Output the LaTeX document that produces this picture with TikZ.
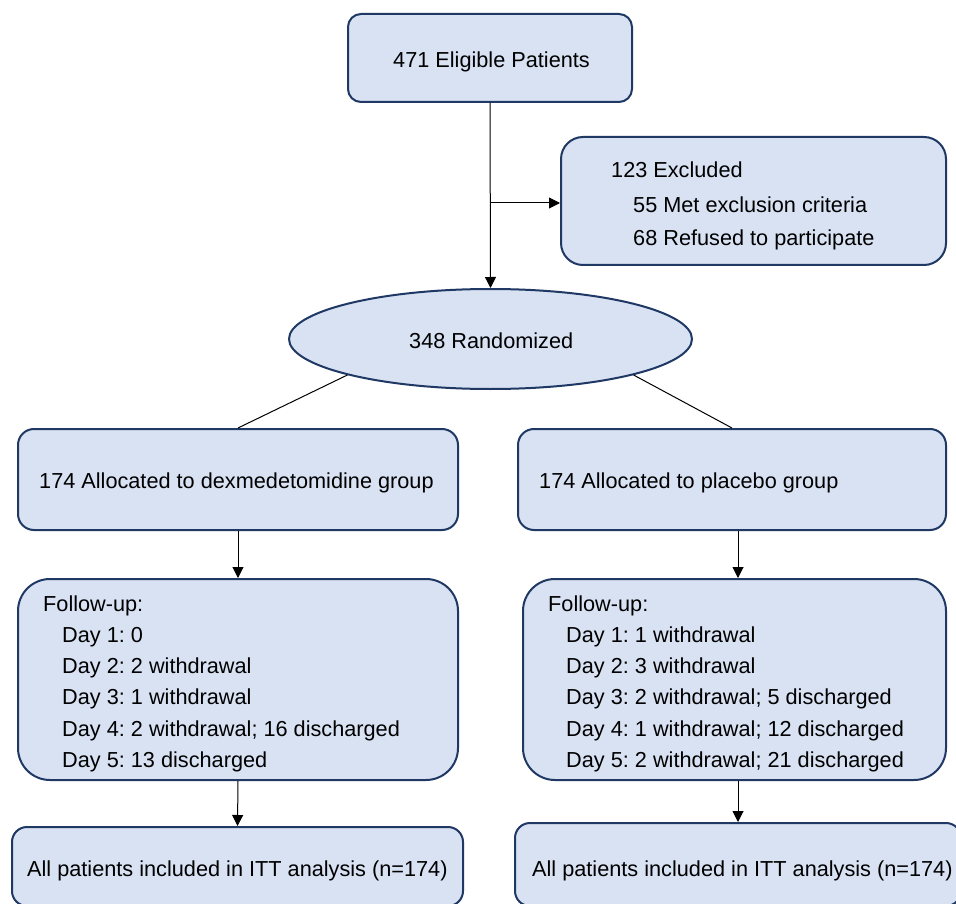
\documentclass[tikz,border=0pt]{standalone}
\usepackage{fontspec}
\setmainfont{Liberation Sans}
\usetikzlibrary{arrows.meta,shapes.geometric}
\definecolor{boxfill}{HTML}{D9E2F3}
\definecolor{boxline}{HTML}{1F3864}
\frenchspacing
\begin{document}
\begin{tikzpicture}[x=1pt,y=-1pt,
  font=\fontsize{21.7}{26}\selectfont,
  box/.style={draw=boxline,fill=boxfill,line width=2pt,rectangle,inner sep=0pt},
  ell/.style={draw=boxline,fill=boxfill,line width=2pt,ellipse,inner sep=0pt},
  txt/.style={anchor=base west,inner sep=0pt,text=black},
  conn/.style={draw=black,line width=1pt},
  arr/.style={conn,-{Triangle[length=11pt,width=11pt]}}]
\useasboundingbox (0,0) rectangle (956,904);
\clip (0,0) rectangle (956,904);
\fill[white] (0,0) rectangle (956,904);

% boxes
\node[box,rounded corners=13pt,minimum width=284pt,minimum height=88pt] (top) at (490,58) {};
\node[box,rounded corners=22pt,minimum width=385pt,minimum height=128pt] (excl) at (753.5,201) {};
\node[ell,minimum width=403pt,minimum height=100pt] (rand) at (490.5,339) {};
\node[box,rounded corners=16pt,minimum width=440pt,minimum height=101pt] (la) at (238,479.5) {};
\node[box,rounded corners=16pt,minimum width=428pt,minimum height=101pt] (ra) at (732,479.5) {};
\node[box,rounded corners=32pt,minimum width=440pt,minimum height=201pt] (lf) at (238,679.5) {};
\node[box,rounded corners=32pt,minimum width=423pt,minimum height=201pt] (rf) at (734.5,679.5) {};
\node[box,rounded corners=15pt,minimum width=451pt,minimum height=79pt] (lb) at (237.5,866.5) {};
\node[box,rounded corners=15pt,minimum width=446pt,minimum height=83pt] (rb) at (738,864.5) {};

% texts
\node[txt] (ttop) at (393,68) {471 Eligible Patients};
\node[txt] (te1) at (611,178) {123 Excluded};
\node[txt] (te2) at (633,213) {55 Met exclusion criteria};
\node[txt] (te3) at (633,246) {68 Refused to participate};
\node[txt] (trand) at (409,348) {348 Randomized};
\node[txt] (tla) at (39,488) {174 Allocated to dexmedetomidine group};
\node[txt] (tra) at (539,488) {174 Allocated to placebo group};

\node[txt] (lf0) at (43,611) {Follow-up:};
\node[txt] (lf1) at (62,642) {Day 1: 0};
\node[txt] (lf2) at (62,673) {Day 2: 2 withdrawal};
\node[txt] (lf3) at (62,704) {Day 3: 1 withdrawal};
\node[txt] (lf4) at (62,736) {Day 4: 2 withdrawal; 16 discharged};
\node[txt] (lf5) at (62,767) {Day 5: 13 discharged};

\node[txt] (rf0) at (548,611) {Follow-up:};
\node[txt] (rf1) at (566,642) {Day 1: 1 withdrawal};
\node[txt] (rf2) at (566,673) {Day 2: 3 withdrawal};
\node[txt] (rf3) at (566,704) {Day 3: 2 withdrawal; 5 discharged};
\node[txt] (rf4) at (566,736) {Day 4: 1 withdrawal; 12 discharged};
\node[txt] (rf5) at (566,767) {Day 5: 2 withdrawal; 21 discharged};

\node[txt] (tlb) at (27,876.5) {All patients included in ITT analysis (n=174)};
\node[txt] (trb) at (532,876) {All patients included in ITT analysis (n=174)};

% connectors
\coordinate (branch) at (491,203);
\draw[arr] (top.south) -- (rand.north);
\draw[arr] (branch) -- (branch -| excl.west);
\draw[conn] (rand.south west) -- (la.north);
\draw[conn] (rand.south east) -- (ra.north);
\draw[arr] (la.south) -- (lf.north);
\draw[arr] ([xshift=6pt]ra.south) -- ([xshift=6pt]ra.south |- rf.north);
\draw[arr] (lf.south) -- (lb.north);
\draw[arr] (rb.north |- rf.south) -- (rb.north);
\end{tikzpicture}
\end{document}
